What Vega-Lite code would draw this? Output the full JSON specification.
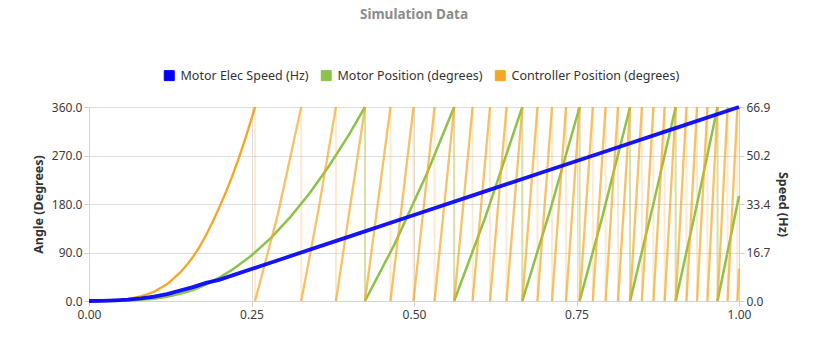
{
  "$schema": "https://vega.github.io/schema/vega-lite/v6.json",
  "width": 650,
  "height": 194,
  "autosize": {"type": "none"},
  "padding": {"left": 89, "top": 107, "right": 84, "bottom": 52},
  "background": "white",
  "title": {"text": "Simulation Data", "anchor": "middle", "frame": "group", "fontSize": 13.5, "fontWeight": "bold", "color": "#8c8c8c", "font": "Noto Sans", "offset": 48},
  "datasets": {
    "spd": [
      {"t": 0, "v": 0}, {"t": 0.02, "v": 0.06}, {"t": 0.04, "v": 0.25}, {"t": 0.06, "v": 0.5}, {"t": 0.08, "v": 0.9},
      {"t": 0.1, "v": 1.5}, {"t": 0.12, "v": 2.4}, {"t": 0.14, "v": 3.55}, {"t": 0.16, "v": 4.8}, {"t": 0.18, "v": 6.25},
      {"t": 0.2, "v": 7.31}, {"t": 0.3, "v": 14.76}, {"t": 0.4, "v": 22.21}, {"t": 0.5, "v": 29.66}, {"t": 0.6, "v": 37.11},
      {"t": 0.7, "v": 44.56}, {"t": 0.8, "v": 52.01}, {"t": 0.9, "v": 59.46}, {"t": 1.0, "v": 66.9}
    ],
    "mot": [
      {"g": 0, "t": 0, "v": 0}, {"g": 0, "t": 0.02, "v": 0.04}, {"g": 0, "t": 0.04, "v": 0.28}, {"g": 0, "t": 0.06, "v": 0.95},
      {"g": 0, "t": 0.08, "v": 2.2}, {"g": 0, "t": 0.1, "v": 4.3}, {"g": 0, "t": 0.12, "v": 7.75}, {"g": 0, "t": 0.14, "v": 13.15},
      {"g": 0, "t": 0.16, "v": 20.5}, {"g": 0, "t": 0.18, "v": 30.5}, {"g": 0, "t": 0.2, "v": 43.15}, {"g": 0, "t": 0.22, "v": 57.65},
      {"g": 0, "t": 0.25, "v": 84.4}, {"g": 0, "t": 0.28, "v": 117.2}, {"g": 0, "t": 0.31, "v": 156.1}, {"g": 0, "t": 0.34, "v": 200.95},
      {"g": 0, "t": 0.37, "v": 251.9}, {"g": 0, "t": 0.4, "v": 308.8}, {"g": 0, "t": 0.4246, "v": 360},
      {"g": 1, "t": 0.4246, "v": 0}, {"g": 1, "t": 0.47, "v": 105.1}, {"g": 1, "t": 0.52, "v": 236.9}, {"g": 1, "t": 0.5618, "v": 360},
      {"g": 2, "t": 0.5618, "v": 0}, {"g": 2, "t": 0.61, "v": 156.4}, {"g": 2, "t": 0.6666, "v": 360},
      {"g": 3, "t": 0.6666, "v": 0}, {"g": 3, "t": 0.71, "v": 170.6}, {"g": 3, "t": 0.7548, "v": 360},
      {"g": 4, "t": 0.7548, "v": 0}, {"g": 4, "t": 0.79, "v": 157.4}, {"g": 4, "t": 0.8324, "v": 360},
      {"g": 5, "t": 0.8324, "v": 0}, {"g": 5, "t": 0.87, "v": 188.8}, {"g": 5, "t": 0.9026, "v": 360},
      {"g": 6, "t": 0.9026, "v": 0}, {"g": 6, "t": 0.935, "v": 177.7}, {"g": 6, "t": 0.967, "v": 360},
      {"g": 7, "t": 0.967, "v": 0}, {"g": 7, "t": 1.0, "v": 195.0}
    ],
    "ctl": [
      {"g": 0, "t": 0, "v": 0}, {"g": 0, "t": 0.02, "v": 0.15}, {"g": 0, "t": 0.04, "v": 1.1}, {"g": 0, "t": 0.06, "v": 3.8},
      {"g": 0, "t": 0.08, "v": 8.8}, {"g": 0, "t": 0.1, "v": 17.2}, {"g": 0, "t": 0.12, "v": 31.0}, {"g": 0, "t": 0.14, "v": 52.6},
      {"g": 0, "t": 0.15, "v": 66.2}, {"g": 0, "t": 0.16, "v": 82.1}, {"g": 0, "t": 0.17, "v": 100.5}, {"g": 0, "t": 0.18, "v": 122.0},
      {"g": 0, "t": 0.19, "v": 146.0}, {"g": 0, "t": 0.2, "v": 172.6}, {"g": 0, "t": 0.21, "v": 200.3}, {"g": 0, "t": 0.22, "v": 230.6},
      {"g": 0, "t": 0.23, "v": 263.6}, {"g": 0, "t": 0.24, "v": 299.3}, {"g": 0, "t": 0.2555, "v": 360},
      {"g": 1, "t": 0.2555, "v": 0}, {"g": 1, "t": 0.29, "v": 158.0}, {"g": 1, "t": 0.3265, "v": 360},
      {"g": 2, "t": 0.3265, "v": 0}, {"g": 2, "t": 0.353, "v": 169.1}, {"g": 2, "t": 0.3799, "v": 360},
      {"g": 3, "t": 0.3799, "v": 0}, {"g": 3, "t": 0.4246, "v": 360},
      {"g": 4, "t": 0.4246, "v": 0}, {"g": 4, "t": 0.4638, "v": 360},
      {"g": 5, "t": 0.4638, "v": 0}, {"g": 5, "t": 0.4992, "v": 360},
      {"g": 6, "t": 0.4992, "v": 0}, {"g": 6, "t": 0.5316, "v": 360},
      {"g": 7, "t": 0.5316, "v": 0}, {"g": 7, "t": 0.5618, "v": 360},
      {"g": 8, "t": 0.5618, "v": 0}, {"g": 8, "t": 0.5901, "v": 360},
      {"g": 9, "t": 0.5901, "v": 0}, {"g": 9, "t": 0.6169, "v": 360},
      {"g": 10, "t": 0.6169, "v": 0}, {"g": 10, "t": 0.6423, "v": 360},
      {"g": 11, "t": 0.6423, "v": 0}, {"g": 11, "t": 0.6666, "v": 360},
      {"g": 12, "t": 0.6666, "v": 0}, {"g": 12, "t": 0.6899, "v": 360},
      {"g": 13, "t": 0.6899, "v": 0}, {"g": 13, "t": 0.7123, "v": 360},
      {"g": 14, "t": 0.7123, "v": 0}, {"g": 14, "t": 0.7339, "v": 360},
      {"g": 15, "t": 0.7339, "v": 0}, {"g": 15, "t": 0.7548, "v": 360},
      {"g": 16, "t": 0.7548, "v": 0}, {"g": 16, "t": 0.7751, "v": 360},
      {"g": 17, "t": 0.7751, "v": 0}, {"g": 17, "t": 0.7947, "v": 360},
      {"g": 18, "t": 0.7947, "v": 0}, {"g": 18, "t": 0.8138, "v": 360},
      {"g": 19, "t": 0.8138, "v": 0}, {"g": 19, "t": 0.8324, "v": 360},
      {"g": 20, "t": 0.8324, "v": 0}, {"g": 20, "t": 0.8506, "v": 360},
      {"g": 21, "t": 0.8506, "v": 0}, {"g": 21, "t": 0.8683, "v": 360},
      {"g": 22, "t": 0.8683, "v": 0}, {"g": 22, "t": 0.8856, "v": 360},
      {"g": 23, "t": 0.8856, "v": 0}, {"g": 23, "t": 0.9026, "v": 360},
      {"g": 24, "t": 0.9026, "v": 0}, {"g": 24, "t": 0.9192, "v": 360},
      {"g": 25, "t": 0.9192, "v": 0}, {"g": 25, "t": 0.9354, "v": 360},
      {"g": 26, "t": 0.9354, "v": 0}, {"g": 26, "t": 0.9514, "v": 360},
      {"g": 27, "t": 0.9514, "v": 0}, {"g": 27, "t": 0.967, "v": 360},
      {"g": 28, "t": 0.967, "v": 0}, {"g": 28, "t": 0.9824, "v": 360},
      {"g": 29, "t": 0.9824, "v": 0}, {"g": 29, "t": 0.9975, "v": 360},
      {"g": 30, "t": 0.9975, "v": 0}, {"g": 30, "t": 1.0, "v": 59.9}
    ]
  },
  "layer": [
    {
      "layer": [
        {
          "data": {"name": "mot"},
          "mark": {"type": "line", "strokeWidth": 2.5},
          "encoding": {
            "x": {"field": "t", "type": "quantitative", "scale": {"domain": [0, 1], "nice": false},
                  "axis": {"values": [0, 0.25, 0.5, 0.75, 1], "format": ".2f", "title": null, "grid": true, "labelFlush": false, "tickSize": 5, "labelPadding": 3}},
            "y": {"field": "v", "type": "quantitative", "scale": {"domain": [0, 360], "nice": false},
                  "axis": {"values": [0, 90, 180, 270, 360], "format": ".1f", "title": "Angle (Degrees)", "grid": true, "tickSize": 5, "labelPadding": 2, "titlePadding": 6}},
            "detail": {"field": "g", "type": "nominal"},
            "order": {"field": "t", "type": "quantitative"},
            "color": {
              "datum": "Motor Position (degrees)",
              "scale": {"domain": ["Motor Elec Speed (Hz)", "Motor Position (degrees)", "Controller Position (degrees)"], "range": ["#0000ff", "#8bc34a", "#f5a623"]},
              "legend": {
                "orient": "none", "legendX": 74, "legendY": -38, "direction": "horizontal", "columns": 3, "title": null,
                "symbolType": "square", "symbolSize": 100, "symbolStrokeColor": "#222", "symbolStrokeWidth": 1,
                "labelFontSize": 12.5, "labelColor": "#333", "labelFont": "Noto Sans", "labelLimit": 400, "columnPadding": 10, "labelOffset": 5,
                "encode": {"symbols": {"update": {"fill": {"scale": "color", "field": "value"}, "stroke": {"value": "#222"}, "opacity": {"value": 1}, "strokeWidth": {"value": 1}}}}
              }
            }
          }
        },
        {
          "data": {"name": "ctl"},
          "transform": [{"filter": "datum.v == 0 && datum.t > 0"}],
          "mark": {"type": "rule", "color": "#f5a623", "opacity": 0.22, "strokeWidth": 2},
          "encoding": {
            "x": {"field": "t", "type": "quantitative"},
            "y": {"datum": 0, "type": "quantitative"},
            "y2": {"datum": 360}
          }
        },
        {
          "data": {"name": "mot"},
          "transform": [{"filter": "datum.v == 0 && datum.t > 0"}],
          "mark": {"type": "rule", "color": "#8bc34a", "opacity": 0.3, "strokeWidth": 2},
          "encoding": {
            "x": {"field": "t", "type": "quantitative"},
            "y": {"datum": 0, "type": "quantitative"},
            "y2": {"datum": 360}
          }
        },
        {
          "data": {"name": "ctl"},
          "mark": {"type": "line", "strokeWidth": 2.3},
          "encoding": {
            "x": {"field": "t", "type": "quantitative"},
            "y": {"field": "v", "type": "quantitative"},
            "detail": {"field": "g", "type": "nominal"},
            "order": {"field": "t", "type": "quantitative"},
            "opacity": {"condition": {"test": "datum.g == 0", "value": 1}, "value": 0.7},
            "color": {"datum": "Controller Position (degrees)"}
          }
        }
      ]
    },
    {
      "data": {"name": "spd"},
      "mark": {"type": "line", "strokeWidth": 3.8, "opacity": 0.92},
      "encoding": {
        "x": {"field": "t", "type": "quantitative"},
        "y": {"field": "v", "type": "quantitative", "scale": {"domain": [0, 66.9], "nice": false},
              "axis": {"orient": "right", "values": [0, 16.725, 33.449, 50.175, 66.9], "format": ".1f", "title": "Speed (Hz)", "grid": false, "tickSize": 5, "labelPadding": 2, "titlePadding": 6}},
        "color": {"datum": "Motor Elec Speed (Hz)"}
      }
    }
  ],
  "resolve": {"scale": {"y": "independent"}},
  "config": {
    "font": "Noto Sans",
    "view": {"stroke": null},
    "axis": {
      "labelFont": "Noto Sans", "labelFontSize": 12, "labelColor": "#3c3c3c",
      "titleFont": "Noto Sans", "titleFontSize": 12.5, "titleFontWeight": "bold", "titleColor": "#333",
      "gridColor": "#dedede", "domainColor": "#d4d4d4", "tickColor": "#cfcfcf"
    }
  }
}
